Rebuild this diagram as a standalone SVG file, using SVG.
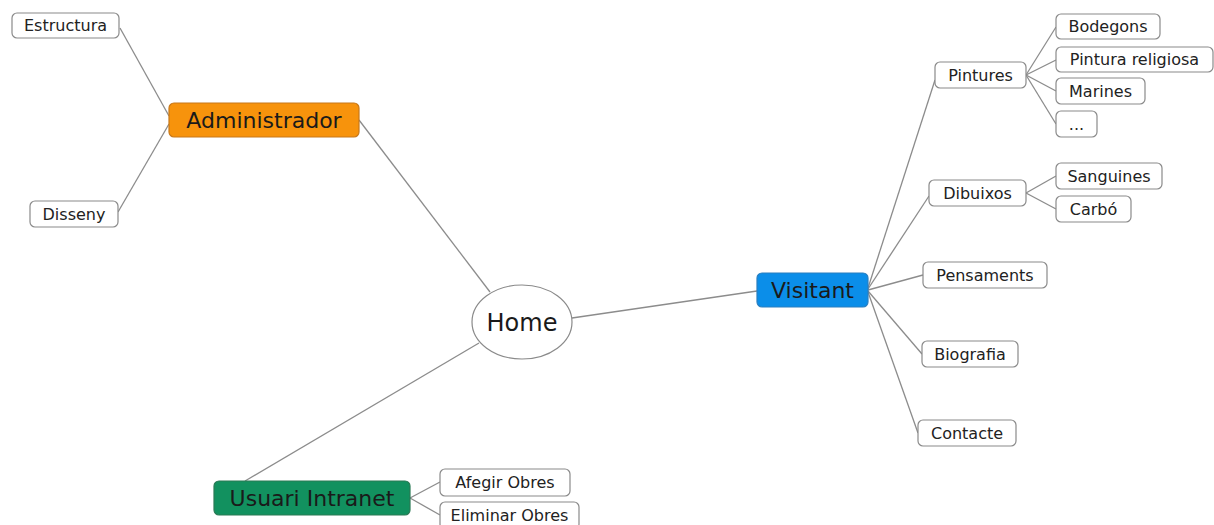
<svg xmlns="http://www.w3.org/2000/svg" width="1214" height="525" viewBox="0 0 1214 525">
<style>
.bg{fill:#ffffff}
.leaf rect{fill:#ffffff;stroke:#8a8a8a;stroke-width:1.2}
.leaf text{font-family:"DejaVu Sans",Verdana,sans-serif;font-size:16px;fill:#222;text-anchor:middle}
.main text{font-family:"DejaVu Sans",Verdana,sans-serif;font-size:22px;fill:#1a1a1a;text-anchor:middle}
.main rect{stroke-width:1.2}
#connectors line{stroke:#8c8c8c;stroke-width:1.3;fill:none}
</style>
<rect class="bg" x="0" y="0" width="1214" height="525"/>
<g id="connectors">
<line x1="120" y1="28" x2="169" y2="116"/>
<line x1="118" y1="212" x2="169" y2="124"/>
<line x1="359" y1="120" x2="490" y2="292"/>
<line x1="572" y1="318" x2="757" y2="291"/>
<line x1="479" y1="343" x2="245" y2="481"/>
<line x1="410" y1="498" x2="440" y2="482"/>
<line x1="410" y1="498" x2="440" y2="515"/>
<line x1="868" y1="288" x2="935" y2="80"/>
<line x1="868" y1="289" x2="929" y2="196"/>
<line x1="868" y1="290" x2="923" y2="275"/>
<line x1="868" y1="291" x2="922" y2="354"/>
<line x1="868" y1="292" x2="918" y2="433"/>
<line x1="1026" y1="75" x2="1056" y2="27"/>
<line x1="1026" y1="75" x2="1056" y2="60"/>
<line x1="1026" y1="75" x2="1056" y2="91"/>
<line x1="1026" y1="75" x2="1056" y2="124"/>
<line x1="1026" y1="193" x2="1056" y2="176"/>
<line x1="1026" y1="193" x2="1056" y2="209"/>
</g>
<g id="home">
<ellipse cx="522" cy="322" rx="50" ry="37" fill="#ffffff" stroke="#8a8a8a" stroke-width="1.2"/>
<text x="522" y="331" font-family="DejaVu Sans,Verdana,sans-serif" font-size="24" fill="#1a1a1a" text-anchor="middle">Home</text>
</g>
<g id="administrador" class="main">
<rect x="169" y="103" width="190" height="34" rx="5" fill="#f7930c" stroke="#c7781a"/>
<text x="264" y="128">Administrador</text>
</g>
<g id="visitant" class="main">
<rect x="757" y="273" width="111" height="34" rx="5" fill="#0b8ee9" stroke="#2a7fc0"/>
<text x="812.5" y="298">Visitant</text>
</g>
<g id="usuari-intranet" class="main">
<rect x="214" y="481" width="196" height="34" rx="5" fill="#12915f" stroke="#2a7a55"/>
<text x="312" y="506">Usuari Intranet</text>
</g>
<g id="estructura" class="leaf"><rect x="12" y="13" width="107" height="25" rx="5"/><text x="65.5" y="31">Estructura</text></g>
<g id="disseny" class="leaf"><rect x="30" y="201" width="88" height="26" rx="5"/><text x="74" y="219.5">Disseny</text></g>
<g id="afegir-obres" class="leaf"><rect x="440" y="469" width="130" height="27" rx="5"/><text x="505" y="488">Afegir Obres</text></g>
<g id="eliminar-obres" class="leaf"><rect x="440" y="502" width="139" height="27" rx="5"/><text x="509.5" y="521">Eliminar Obres</text></g>
<g id="pintures" class="leaf"><rect x="935" y="62" width="91" height="26" rx="5"/><text x="980.5" y="80.5">Pintures</text></g>
<g id="bodegons" class="leaf"><rect x="1056" y="14" width="104" height="25" rx="5"/><text x="1108" y="32">Bodegons</text></g>
<g id="pintura-religiosa" class="leaf"><rect x="1056" y="47" width="157" height="25" rx="5"/><text x="1134.5" y="65">Pintura religiosa</text></g>
<g id="marines" class="leaf"><rect x="1056" y="78" width="89" height="26" rx="5"/><text x="1100.5" y="96.5">Marines</text></g>
<g id="ellipsis" class="leaf"><rect x="1056" y="111" width="41" height="26" rx="5"/><text x="1076.5" y="129.5">...</text></g>
<g id="dibuixos" class="leaf"><rect x="929" y="180" width="97" height="26" rx="5"/><text x="977.5" y="198.5">Dibuixos</text></g>
<g id="sanguines" class="leaf"><rect x="1056" y="163" width="106" height="26" rx="5"/><text x="1109" y="181.5">Sanguines</text></g>
<g id="carbo" class="leaf"><rect x="1056" y="196" width="75" height="26" rx="5"/><text x="1093.5" y="214.5">Carbó</text></g>
<g id="pensaments" class="leaf"><rect x="923" y="262" width="124" height="26" rx="5"/><text x="985" y="280.5">Pensaments</text></g>
<g id="biografia" class="leaf"><rect x="922" y="341" width="96" height="26" rx="5"/><text x="970" y="359.5">Biografia</text></g>
<g id="contacte" class="leaf"><rect x="918" y="420" width="98" height="26" rx="5"/><text x="967" y="438.5">Contacte</text></g>
</svg>
